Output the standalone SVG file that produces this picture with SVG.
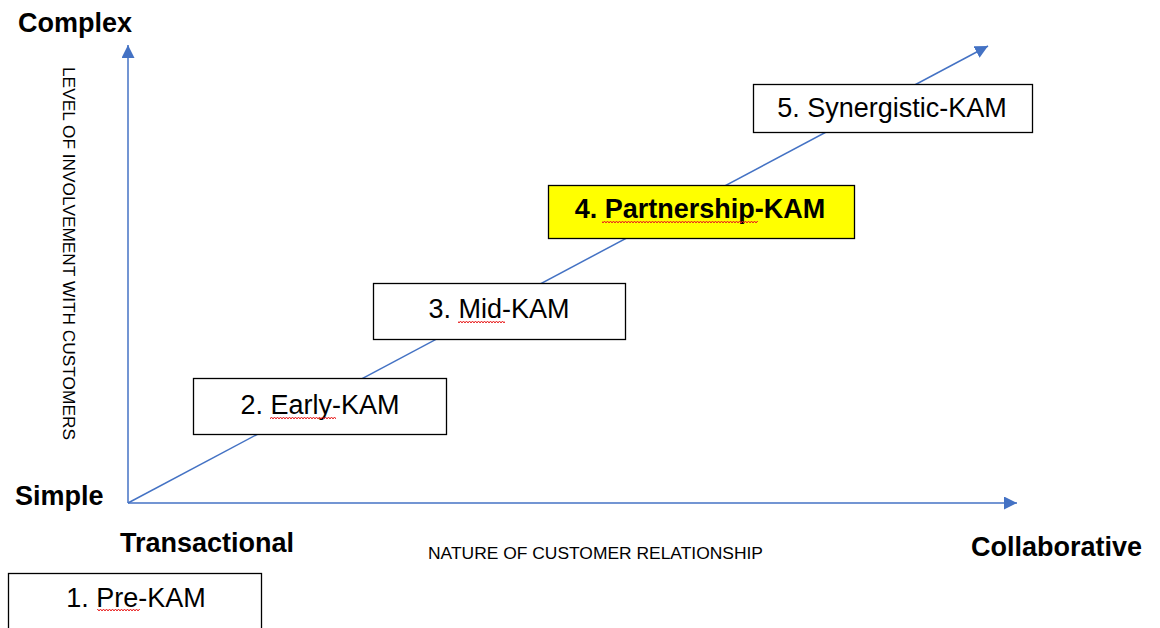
<svg xmlns="http://www.w3.org/2000/svg" width="1160" height="628" viewBox="0 0 1160 628">
<style>
.axis{stroke:#4472C4;stroke-width:1.5;fill:none}
.box{fill:#FFFFFF;stroke:#000000;stroke-width:1.3}
.hl{fill:#FFFF00}
.lbl{font-family:"Liberation Sans",Arial,sans-serif;font-size:27px;fill:#000;text-anchor:middle}
.b{font-weight:bold}
.ax{font-family:"Liberation Sans",Arial,sans-serif;font-size:27px;font-weight:bold;fill:#000}
.small{font-family:"Liberation Sans",Arial,sans-serif;font-size:16px;fill:#000}
</style>
<defs>
<marker id="ahb" viewBox="0 0 10 10" refX="10" refY="5" markerWidth="13" markerHeight="13" markerUnits="userSpaceOnUse" orient="auto">
<path d="M0,0 L10,5 L0,10 z" fill="#4472C4"/>
</marker>
<pattern id="wave" width="6" height="4" patternUnits="userSpaceOnUse">
<path d="M0,3 L1.5,1 L3,3 L4.5,1 L6,3" fill="none" stroke="#E81E1E" stroke-width="1"/>
</pattern>
</defs>
<rect width="1160" height="628" fill="#FFFFFF"/>
<g id="connectors">
<line class="axis" x1="128" y1="503" x2="128" y2="45" marker-end="url(#ahb)"/>
<line class="axis" x1="128" y1="503" x2="1017" y2="503" marker-end="url(#ahb)"/>
<line class="axis" x1="128" y1="503" x2="988" y2="46" marker-end="url(#ahb)"/>
</g>
<g id="axis-labels">
<text class="ax" x="18" y="32">Complex</text>
<text class="ax" x="15" y="505">Simple</text>
<text class="ax" x="120" y="552">Transactional</text>
<text class="ax" x="971" y="556">Collaborative</text>
<text class="small" x="428" y="559" textLength="335" lengthAdjust="spacingAndGlyphs">NATURE OF CUSTOMER RELATIONSHIP</text>
<text class="small" transform="translate(63,67) rotate(90)" textLength="373" lengthAdjust="spacingAndGlyphs">LEVEL OF INVOLVEMENT WITH CUSTOMERS</text>
</g>
<g id="node1">
<rect class="box" x="8.5" y="573.5" width="253" height="70"/>
<text class="lbl" x="136" y="607">1. Pre-KAM</text>
<rect x="97" y="608" width="43" height="4" fill="url(#wave)"/>
</g>
<g id="node2">
<rect class="box" x="193.5" y="378.5" width="253" height="56"/>
<text class="lbl" x="320" y="414">2. Early-KAM</text>
<rect x="270" y="415" width="66" height="4" fill="url(#wave)"/>
</g>
<g id="node3">
<rect class="box" x="373.5" y="283.5" width="252" height="56"/>
<text class="lbl" x="499" y="318">3. Mid-KAM</text>
<rect x="458" y="320" width="47" height="4" fill="url(#wave)"/>
</g>
<g id="node4">
<rect class="box hl" x="548.5" y="185.5" width="306" height="53"/>
<text class="lbl b" x="700" y="218">4. Partnership-KAM</text>
<rect x="602" y="221" width="156" height="4" fill="url(#wave)"/>
</g>
<g id="node5">
<rect class="box" x="753.5" y="84.5" width="279" height="48"/>
<text class="lbl" x="892" y="117">5. Synergistic-KAM</text>
</g>
</svg>
